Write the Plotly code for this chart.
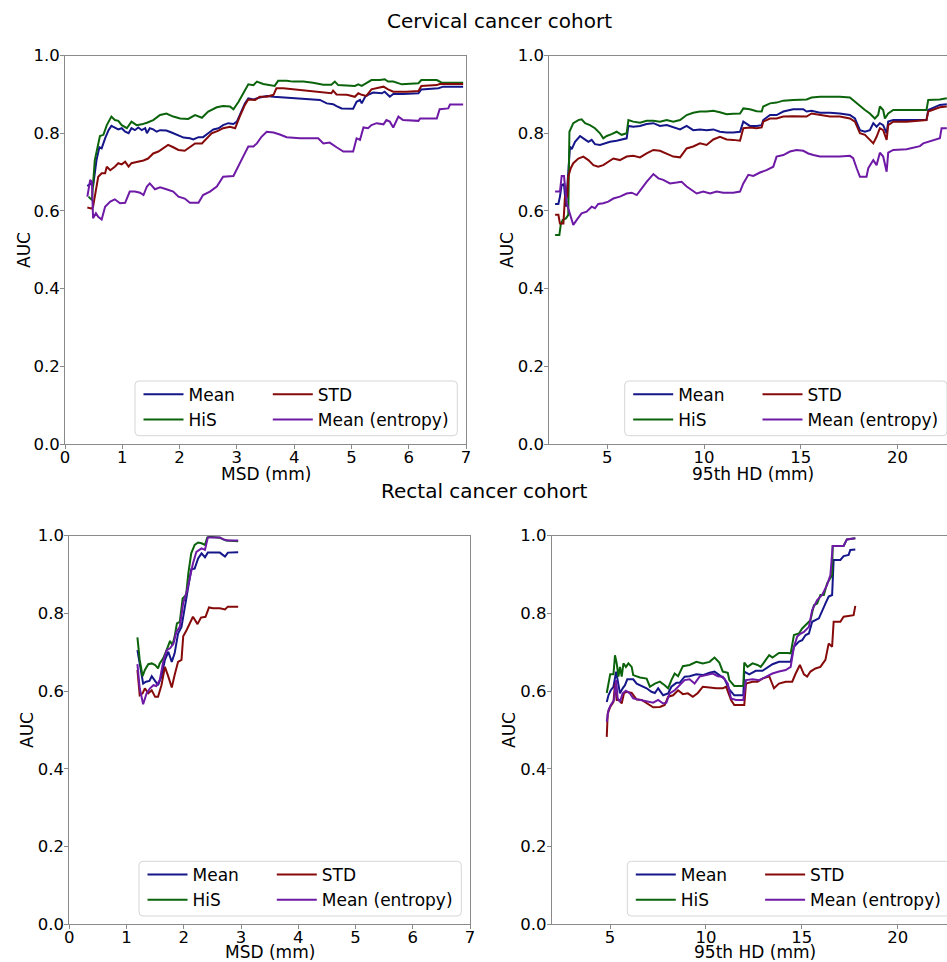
import plotly.graph_objects as go

W, H = 947, 962

# ---------------- data ----------------
SERIES_NAMES = ["Mean", "HiS", "STD", "Mean (entropy)"]
MSD_TICKS = [0, 1, 2, 3, 4, 5, 6, 7]
HD_TICKS = [5, 10, 15, 20]
AUC_TICKS = [0.0, 0.2, 0.4, 0.6, 0.8, 1.0]

# Cervical cohort, MSD
CERV_MSD_MEAN_X = [0.39,0.45,0.49,0.55,0.60,0.64,0.70,0.76,0.81,0.87,0.93,0.99,1.05,1.11,1.16,1.22,1.28,1.34,1.40,1.43,1.48,1.54,1.60,1.66,1.77,1.86,1.95,2.07,2.18,2.24,2.33,2.41,2.50,2.59,2.68,2.76,2.85,2.94,3.00,3.08,3.14,3.20,3.29,3.40,3.52,3.64,3.75,3.87,3.98,4.22,4.45,4.57,4.68,4.74,4.83,5.03,5.09,5.15,5.18,5.24,5.29,5.38,5.53,5.58,5.67,5.73,5.90,6.17,6.22,6.52,6.60,6.95]
CERV_MSD_MEAN_Y = [0.664,0.671,0.663,0.731,0.764,0.761,0.787,0.808,0.819,0.815,0.810,0.813,0.804,0.800,0.813,0.808,0.815,0.808,0.813,0.800,0.813,0.810,0.804,0.808,0.807,0.802,0.796,0.789,0.787,0.784,0.790,0.790,0.800,0.810,0.813,0.821,0.826,0.824,0.830,0.856,0.877,0.890,0.887,0.892,0.896,0.894,0.893,0.892,0.890,0.887,0.886,0.877,0.875,0.870,0.864,0.863,0.881,0.886,0.877,0.894,0.899,0.905,0.903,0.907,0.894,0.901,0.901,0.903,0.913,0.916,0.920,0.920]
CERV_MSD_HIS_X = [0.41,0.47,0.52,0.61,0.67,0.73,0.81,0.87,0.93,0.99,1.08,1.16,1.25,1.34,1.43,1.54,1.66,1.77,1.89,2.01,2.15,2.27,2.39,2.50,2.65,2.76,2.88,2.94,3.03,3.11,3.20,3.29,3.35,3.46,3.58,3.66,3.72,3.87,3.98,4.16,4.33,4.51,4.65,4.71,4.77,4.92,5.06,5.12,5.18,5.26,5.35,5.50,5.58,5.64,5.73,5.88,5.96,6.17,6.22,6.49,6.57,6.95]
CERV_MSD_HIS_Y = [0.637,0.628,0.731,0.793,0.796,0.821,0.843,0.834,0.832,0.821,0.813,0.830,0.821,0.823,0.827,0.834,0.847,0.851,0.843,0.838,0.837,0.847,0.840,0.856,0.867,0.870,0.869,0.862,0.881,0.903,0.926,0.924,0.933,0.927,0.924,0.922,0.935,0.935,0.933,0.933,0.930,0.925,0.925,0.933,0.924,0.923,0.922,0.926,0.922,0.929,0.937,0.937,0.939,0.933,0.933,0.926,0.927,0.929,0.937,0.937,0.931,0.930]
CERV_MSD_STD_X = [0.39,0.47,0.49,0.54,0.58,0.64,0.70,0.73,0.79,0.87,0.93,0.99,1.05,1.11,1.16,1.25,1.37,1.45,1.54,1.63,1.72,1.80,1.89,1.98,2.09,2.18,2.27,2.39,2.47,2.56,2.68,2.76,2.88,2.97,3.05,3.14,3.20,3.32,3.40,3.52,3.64,3.69,3.81,3.98,4.16,4.33,4.51,4.65,4.68,4.74,4.92,5.06,5.12,5.18,5.26,5.35,5.47,5.56,5.64,5.73,5.96,6.17,6.22,6.49,6.54,6.95]
CERV_MSD_STD_Y = [0.609,0.606,0.611,0.654,0.688,0.697,0.697,0.714,0.705,0.714,0.723,0.720,0.727,0.714,0.723,0.726,0.730,0.735,0.748,0.753,0.761,0.770,0.764,0.757,0.755,0.764,0.774,0.774,0.787,0.800,0.807,0.813,0.817,0.813,0.843,0.873,0.887,0.886,0.894,0.894,0.899,0.916,0.916,0.913,0.911,0.907,0.905,0.903,0.910,0.900,0.899,0.894,0.903,0.899,0.896,0.913,0.917,0.920,0.913,0.907,0.907,0.909,0.922,0.924,0.927,0.927]
CERV_MSD_ENT_X = [0.39,0.44,0.47,0.49,0.54,0.58,0.64,0.70,0.79,0.87,0.96,1.05,1.13,1.22,1.31,1.37,1.43,1.48,1.57,1.66,1.77,1.89,1.98,2.09,2.18,2.33,2.41,2.53,2.65,2.76,2.94,3.03,3.11,3.20,3.29,3.35,3.43,3.52,3.64,3.75,3.87,4.10,4.42,4.51,4.62,4.74,4.86,5.03,5.09,5.15,5.21,5.29,5.35,5.44,5.56,5.61,5.67,5.73,5.82,5.90,6.17,6.20,6.49,6.54,6.69,6.72,6.95]
CERV_MSD_ENT_Y = [0.637,0.680,0.675,0.581,0.594,0.585,0.578,0.611,0.624,0.630,0.620,0.621,0.650,0.650,0.647,0.641,0.663,0.671,0.656,0.661,0.656,0.650,0.637,0.632,0.621,0.621,0.641,0.650,0.663,0.688,0.690,0.718,0.740,0.766,0.766,0.774,0.791,0.804,0.802,0.797,0.790,0.787,0.787,0.774,0.776,0.764,0.753,0.753,0.787,0.783,0.815,0.813,0.821,0.826,0.823,0.834,0.830,0.815,0.843,0.834,0.832,0.838,0.838,0.862,0.864,0.874,0.874]

# Cervical cohort, 95th HD
CERV_HD_MEAN_X = [2.30,2.47,2.55,2.64,2.76,2.86,3.07,3.16,3.33,3.59,3.76,4.02,4.19,4.36,4.62,4.88,5.14,5.48,5.83,6.00,6.09,6.34,6.69,7.03,7.38,7.72,8.07,8.41,8.76,9.10,9.44,9.79,10.13,10.48,10.82,11.17,11.51,11.86,12.03,12.37,12.72,12.98,13.06,13.41,13.75,14.10,14.61,15.13,15.30,15.56,15.99,16.51,17.02,17.54,17.80,18.06,18.32,18.57,18.75,18.92,19.09,19.26,19.44,19.52,19.78,20.47,21.50,21.59,22.19,22.55]
CERV_HD_MEAN_Y = [0.618,0.618,0.637,0.667,0.669,0.611,0.766,0.759,0.778,0.793,0.787,0.778,0.783,0.772,0.770,0.774,0.778,0.781,0.784,0.787,0.819,0.817,0.819,0.824,0.826,0.819,0.821,0.815,0.810,0.819,0.808,0.810,0.808,0.810,0.804,0.802,0.802,0.804,0.830,0.819,0.819,0.821,0.834,0.847,0.847,0.856,0.862,0.862,0.856,0.858,0.853,0.853,0.851,0.847,0.838,0.808,0.804,0.808,0.826,0.817,0.826,0.821,0.800,0.830,0.834,0.834,0.834,0.860,0.873,0.875]
CERV_HD_HIS_X = [2.30,2.52,2.59,2.69,2.86,2.98,3.04,3.24,3.50,3.67,3.85,4.10,4.36,4.62,4.79,4.97,5.22,5.48,5.74,6.00,6.09,6.34,6.69,7.03,7.38,7.72,8.07,8.41,8.76,9.10,9.44,9.79,10.13,10.48,10.82,11.17,11.51,11.86,12.03,12.37,12.72,12.98,13.06,13.41,13.75,14.10,14.61,15.13,15.30,15.56,15.99,16.51,17.02,17.54,17.80,18.06,18.32,18.57,18.83,19.00,19.09,19.26,19.35,19.52,19.78,20.47,21.50,21.59,22.19,22.55]
CERV_HD_HIS_Y = [0.538,0.538,0.564,0.577,0.581,0.590,0.804,0.826,0.834,0.836,0.826,0.821,0.813,0.800,0.787,0.793,0.798,0.804,0.796,0.800,0.834,0.830,0.827,0.832,0.832,0.830,0.834,0.830,0.834,0.847,0.853,0.856,0.856,0.858,0.854,0.849,0.850,0.851,0.864,0.862,0.857,0.856,0.869,0.877,0.879,0.884,0.886,0.886,0.887,0.892,0.894,0.894,0.894,0.892,0.881,0.869,0.860,0.851,0.838,0.847,0.869,0.860,0.838,0.851,0.860,0.860,0.860,0.886,0.887,0.890]
CERV_HD_STD_X = [2.30,2.47,2.55,2.73,2.81,2.93,2.98,3.11,3.24,3.50,3.76,4.02,4.28,4.53,4.79,5.05,5.31,5.65,6.00,6.34,6.69,7.03,7.38,7.72,8.07,8.41,8.76,9.10,9.44,9.79,10.13,10.48,10.82,11.17,11.51,11.86,12.03,12.37,12.72,12.98,13.06,13.41,13.75,14.10,14.61,15.13,15.30,15.56,15.99,16.51,17.02,17.54,17.80,18.06,18.32,18.57,18.75,18.92,19.09,19.26,19.44,19.52,19.78,20.47,21.50,21.59,22.19,22.55]
CERV_HD_STD_Y = [0.590,0.590,0.568,0.568,0.637,0.637,0.688,0.710,0.723,0.735,0.740,0.731,0.718,0.714,0.718,0.727,0.735,0.731,0.740,0.742,0.738,0.748,0.757,0.755,0.748,0.740,0.738,0.761,0.766,0.774,0.770,0.784,0.791,0.784,0.783,0.781,0.813,0.815,0.813,0.815,0.830,0.838,0.838,0.843,0.844,0.844,0.843,0.851,0.847,0.843,0.843,0.838,0.830,0.800,0.796,0.783,0.774,0.791,0.813,0.808,0.783,0.821,0.830,0.830,0.834,0.856,0.867,0.869]
CERV_HD_ENT_X = [2.30,2.55,2.64,2.76,2.90,3.04,3.24,3.42,3.67,3.93,4.19,4.36,4.53,4.79,5.05,5.31,5.65,6.00,6.26,6.52,6.77,7.03,7.38,7.64,7.89,8.24,8.58,8.84,9.10,9.36,9.62,9.96,10.31,10.65,10.99,11.51,11.86,12.03,12.29,12.55,12.89,13.23,13.58,13.75,14.10,14.44,14.78,15.13,15.39,15.65,15.99,16.51,17.02,17.54,17.71,17.89,18.06,18.40,18.49,18.75,18.92,19.09,19.26,19.44,19.52,19.78,20.47,21.16,21.33,22.19,22.28,22.55]
CERV_HD_ENT_Y = [0.650,0.650,0.690,0.690,0.620,0.594,0.564,0.577,0.594,0.598,0.611,0.607,0.618,0.620,0.624,0.632,0.637,0.645,0.647,0.641,0.658,0.675,0.695,0.684,0.680,0.671,0.673,0.675,0.663,0.654,0.645,0.650,0.645,0.650,0.647,0.647,0.650,0.671,0.693,0.690,0.699,0.705,0.714,0.740,0.744,0.753,0.757,0.755,0.748,0.744,0.740,0.740,0.740,0.742,0.736,0.710,0.688,0.688,0.710,0.731,0.718,0.750,0.740,0.701,0.750,0.757,0.759,0.767,0.774,0.787,0.813,0.813]

# Rectal cohort, MSD
RECT_MSD_MEAN_X = [1.19,1.25,1.29,1.34,1.40,1.44,1.50,1.55,1.61,1.67,1.73,1.79,1.84,1.90,1.96,2.02,2.08,2.13,2.19,2.25,2.31,2.37,2.42,2.63,2.72,2.77,2.95]
RECT_MSD_MEAN_Y = [0.705,0.650,0.619,0.624,0.626,0.638,0.624,0.615,0.637,0.680,0.701,0.675,0.697,0.748,0.765,0.821,0.873,0.913,0.915,0.941,0.954,0.944,0.956,0.956,0.946,0.956,0.957]
RECT_MSD_HIS_X = [1.19,1.23,1.28,1.32,1.38,1.44,1.50,1.55,1.58,1.64,1.70,1.76,1.80,1.84,1.88,1.93,1.98,2.04,2.08,2.13,2.19,2.25,2.31,2.37,2.41,2.45,2.63,2.74,2.95]
RECT_MSD_HIS_Y = [0.738,0.680,0.638,0.654,0.669,0.671,0.667,0.658,0.671,0.684,0.705,0.729,0.718,0.740,0.774,0.778,0.838,0.847,0.903,0.954,0.976,0.982,0.980,0.976,0.995,0.997,0.994,0.987,0.985]
RECT_MSD_STD_X = [1.19,1.23,1.28,1.32,1.38,1.44,1.50,1.55,1.61,1.67,1.73,1.79,1.84,1.90,1.96,1.99,2.05,2.11,2.16,2.24,2.30,2.38,2.44,2.51,2.63,2.72,2.77,2.95]
RECT_MSD_STD_Y = [0.654,0.589,0.594,0.607,0.594,0.602,0.585,0.585,0.615,0.662,0.637,0.609,0.641,0.675,0.680,0.741,0.757,0.774,0.791,0.772,0.789,0.791,0.815,0.813,0.813,0.810,0.817,0.817]
RECT_MSD_ENT_X = [1.19,1.23,1.29,1.35,1.41,1.47,1.52,1.58,1.64,1.70,1.76,1.82,1.87,1.93,1.99,2.05,2.11,2.16,2.22,2.31,2.37,2.42,2.63,2.69,2.77,2.95]
RECT_MSD_ENT_Y = [0.669,0.607,0.566,0.594,0.607,0.615,0.613,0.628,0.675,0.705,0.710,0.722,0.752,0.765,0.827,0.855,0.894,0.928,0.958,0.967,0.963,0.995,0.995,0.990,0.987,0.987]

# Rectal cohort, 95th HD
RECT_HD_MEAN_X = [4.83,4.92,5.04,5.18,5.32,5.40,5.52,5.66,5.78,5.90,6.21,6.39,6.65,6.91,7.16,7.34,7.51,7.77,8.03,8.20,8.46,8.63,8.89,9.15,9.50,9.84,10.19,10.45,10.70,10.96,11.22,11.48,11.95,12.00,12.26,12.60,12.95,13.30,13.47,13.81,14.42,14.59,14.85,15.02,15.20,15.37,15.54,15.89,16.06,16.23,16.40,16.58,16.66,17.01,17.18,17.44,17.53,17.79]
RECT_HD_MEAN_Y = [0.572,0.589,0.602,0.611,0.650,0.628,0.594,0.607,0.615,0.630,0.630,0.619,0.613,0.607,0.598,0.595,0.607,0.589,0.594,0.611,0.621,0.621,0.637,0.638,0.643,0.641,0.647,0.650,0.641,0.632,0.604,0.589,0.589,0.650,0.643,0.652,0.652,0.662,0.669,0.675,0.675,0.714,0.727,0.731,0.744,0.748,0.778,0.787,0.808,0.825,0.843,0.847,0.937,0.937,0.947,0.950,0.963,0.964]
RECT_HD_HIS_X = [4.83,4.92,5.01,5.18,5.26,5.35,5.44,5.52,5.61,5.70,5.83,5.96,6.13,6.21,6.56,6.91,7.08,7.34,7.60,7.85,8.03,8.20,8.37,8.55,8.80,9.15,9.50,9.84,10.19,10.45,10.70,10.88,11.14,11.22,11.48,11.95,12.00,12.17,12.43,12.69,12.86,13.12,13.30,13.47,13.81,14.25,14.42,14.59,14.85,15.02,15.28,15.45,15.63,15.80,15.97,16.15,16.32,16.49,16.58,16.61,17.18,17.35,17.79]
RECT_HD_HIS_Y = [0.595,0.619,0.643,0.643,0.692,0.671,0.637,0.662,0.637,0.671,0.662,0.671,0.662,0.641,0.635,0.632,0.611,0.619,0.624,0.615,0.607,0.628,0.645,0.638,0.664,0.667,0.675,0.671,0.675,0.686,0.673,0.650,0.647,0.628,0.613,0.613,0.673,0.662,0.671,0.667,0.662,0.680,0.692,0.686,0.698,0.698,0.697,0.744,0.748,0.761,0.774,0.782,0.821,0.825,0.847,0.847,0.877,0.890,0.898,0.973,0.973,0.990,0.993]
RECT_HD_STD_X = [4.83,4.88,5.01,5.18,5.26,5.35,5.49,5.61,5.73,5.87,6.13,6.39,6.65,6.91,7.25,7.60,7.85,8.03,8.29,8.55,8.80,9.06,9.32,9.58,9.84,10.19,10.53,10.88,11.05,11.31,11.48,12.00,12.09,12.43,12.69,12.95,13.30,13.55,13.81,14.16,14.50,14.68,14.90,15.11,15.28,15.45,15.71,15.97,16.23,16.40,16.58,16.66,17.01,17.18,17.70,17.79]
RECT_HD_STD_Y = [0.482,0.542,0.559,0.572,0.619,0.577,0.577,0.568,0.595,0.598,0.595,0.578,0.577,0.568,0.558,0.559,0.564,0.585,0.589,0.602,0.592,0.594,0.585,0.595,0.611,0.609,0.607,0.607,0.611,0.577,0.564,0.564,0.619,0.624,0.624,0.632,0.638,0.607,0.619,0.624,0.624,0.645,0.667,0.643,0.637,0.650,0.658,0.662,0.680,0.722,0.714,0.778,0.778,0.791,0.795,0.819]
RECT_HD_ENT_X = [4.83,4.92,5.04,5.21,5.32,5.40,5.52,5.66,5.83,6.04,6.21,6.56,6.91,7.25,7.51,7.77,7.94,8.11,8.37,8.63,8.89,9.15,9.41,9.67,10.01,10.36,10.62,10.88,11.14,11.31,11.57,11.95,12.09,12.43,12.78,13.12,13.47,13.81,14.16,14.42,14.59,14.76,14.94,15.11,15.37,15.54,15.80,16.06,16.32,16.49,16.61,17.18,17.35,17.79]
RECT_HD_ENT_Y = [0.521,0.551,0.564,0.577,0.628,0.581,0.572,0.594,0.601,0.594,0.581,0.577,0.572,0.570,0.577,0.568,0.570,0.594,0.602,0.615,0.628,0.630,0.619,0.637,0.641,0.645,0.638,0.637,0.619,0.581,0.577,0.577,0.628,0.630,0.628,0.637,0.645,0.650,0.654,0.662,0.714,0.740,0.748,0.752,0.765,0.808,0.834,0.847,0.873,0.898,0.973,0.973,0.990,0.993]

# ---------------- styling ----------------
COLORS = {"Mean": "#15168a", "HiS": "#0b640b", "STD": "#860a0a", "Mean (entropy)": "#6e1aa6"}
FONT = "DejaVu Sans"
SPINE = "#8a8a8a"

# panel definitions: axis ids, pixel frames (left, top, right, bottom), ranges
panels = [
    dict(xa="x", ya="y", frame=(65, 55.6, 466, 444), xr=[0, 7], xt=MSD_TICKS, right_spine=True,
         data={"Mean": (CERV_MSD_MEAN_X, CERV_MSD_MEAN_Y), "HiS": (CERV_MSD_HIS_X, CERV_MSD_HIS_Y),
               "STD": (CERV_MSD_STD_X, CERV_MSD_STD_Y), "Mean (entropy)": (CERV_MSD_ENT_X, CERV_MSD_ENT_Y)},
         legbox=(135, 381, 457.3, 435.7)),
    dict(xa="x2", ya="y2", frame=(549.3, 55.6, 947, 444), xr=[2.0, 22.56], xt=HD_TICKS, right_spine=False,
         data={"Mean": (CERV_HD_MEAN_X, CERV_HD_MEAN_Y), "HiS": (CERV_HD_HIS_X, CERV_HD_HIS_Y),
               "STD": (CERV_HD_STD_X, CERV_HD_STD_Y), "Mean (entropy)": (CERV_HD_ENT_X, CERV_HD_ENT_Y)},
         legbox=(624.7, 381, 947, 435.7)),
    dict(xa="x3", ya="y3", frame=(69.3, 535.5, 470, 924.3), xr=[0, 7], xt=MSD_TICKS, right_spine=True,
         data={"Mean": (RECT_MSD_MEAN_X, RECT_MSD_MEAN_Y), "HiS": (RECT_MSD_HIS_X, RECT_MSD_HIS_Y),
               "STD": (RECT_MSD_STD_X, RECT_MSD_STD_Y), "Mean (entropy)": (RECT_MSD_ENT_X, RECT_MSD_ENT_Y)},
         legbox=(139, 861.3, 461.3, 916)),
    dict(xa="x4", ya="y4", frame=(551.7, 535.5, 947, 924.3), xr=[1.96, 22.57], xt=HD_TICKS, right_spine=False,
         data={"Mean": (RECT_HD_MEAN_X, RECT_HD_MEAN_Y), "HiS": (RECT_HD_HIS_X, RECT_HD_HIS_Y),
               "STD": (RECT_HD_STD_X, RECT_HD_STD_Y), "Mean (entropy)": (RECT_HD_ENT_X, RECT_HD_ENT_Y)},
         legbox=(627.3, 861.3, 949.6, 916)),
]

def px(x):
    return x / W

def py(y):
    return 1 - y / H

fig = go.Figure()
layout = dict(
    width=W, height=H, margin=dict(l=0, r=0, t=0, b=0, pad=0, autoexpand=False),
    paper_bgcolor="white", plot_bgcolor="white",
    font=dict(family=FONT, color="black", size=17),
    showlegend=True,
)
shapes, annotations = [], []

draw_order = ["Mean", "HiS", "STD", "Mean (entropy)"]
for i, p in enumerate(panels):
    L, T, R, B = p["frame"]
    ax_suffix = "" if i == 0 else str(i + 1)
    leg1 = "legend" if i == 0 else f"legend{2 * i + 1}"
    leg2 = f"legend{2 * i + 2}"
    for name in draw_order:
        xs, ys = p["data"][name]
        fig.add_trace(go.Scatter(
            x=xs, y=ys, mode="lines", name=name,
            line=dict(color=COLORS[name], width=2),
            xaxis=p["xa"], yaxis=p["ya"],
            legend=leg1 if name in ("Mean", "HiS") else leg2,
            hoverinfo="skip",
        ))
    common = dict(showline=True, linecolor=SPINE, linewidth=1, ticks="outside", ticklen=4,
                  tickcolor=SPINE, tickwidth=1, showgrid=False, zeroline=False, automargin=False,
                  tickfont=dict(size=16.5, family=FONT, color="black"))
    layout["xaxis" + ax_suffix] = dict(common, domain=[px(L), px(R)], range=p["xr"],
                                       tickvals=p["xt"], anchor=p["ya"], mirror=True,
                                       ticklabelstandoff=-6)
    layout["yaxis" + ax_suffix] = dict(common, domain=[py(B), py(T)], range=[0, 1],
                                       tickvals=AUC_TICKS, tickformat=".1f", anchor=p["xa"],
                                       mirror=p["right_spine"], ticklabelstandoff=-3)
    # legend box
    lL, lT, lR, lB = p["legbox"]
    r = 4
    path = (f"M {px(lL + r)},{py(lT)} L {px(lR - r)},{py(lT)} Q {px(lR)},{py(lT)} {px(lR)},{py(lT + r)} "
            f"L {px(lR)},{py(lB - r)} Q {px(lR)},{py(lB)} {px(lR - r)},{py(lB)} "
            f"L {px(lL + r)},{py(lB)} Q {px(lL)},{py(lB)} {px(lL)},{py(lB - r)} "
            f"L {px(lL)},{py(lT + r)} Q {px(lL)},{py(lT)} {px(lL + r)},{py(lT)} Z")
    shapes.append(dict(type="path", path=path, xref="paper", yref="paper",
                       line=dict(color="#d6d6d6", width=1), fillcolor="rgba(255,255,255,0.8)",
                       layer="above"))
    legcommon = dict(xanchor="left", yanchor="top", bgcolor="rgba(0,0,0,0)", borderwidth=0,
                     font=dict(size=17, family=FONT, color="black"), itemwidth=40,
                     tracegroupgap=0, orientation="v")
    layout[leg1] = dict(legcommon, x=px(lL + 3.5), y=py(lT - 4.25))
    layout[leg2] = dict(legcommon, x=px(lL + 132.8), y=py(lT - 4.25))

# titles and axis labels
def ann(text, x, y, size=17, angle=0):
    annotations.append(dict(text=text, x=px(x), y=py(y), xref="paper", yref="paper",
                            showarrow=False, xanchor="center", yanchor="middle",
                            textangle=angle, font=dict(size=size, family=FONT, color="black")))

ann("Cervical cancer cohort", 500, 21, size=20)
ann("Rectal cancer cohort", 484, 491, size=20)
ann("MSD (mm)", 265.5, 474)
ann("95th HD (mm)", 752.5, 473.5)
ann("MSD (mm)", 269.7, 952)
ann("95th HD (mm)", 755, 952)
ann("AUC", 24, 250, angle=-90)
ann("AUC", 507, 250, angle=-90)
ann("AUC", 27, 730, angle=-90)
ann("AUC", 509, 730, angle=-90)

layout["shapes"] = shapes
layout["annotations"] = annotations
fig.update_layout(**layout)
fig.write_html("out.html", config={"displayModeBar": False},
               post_script="document.body.style.margin='0px';document.body.style.overflow='hidden';")
